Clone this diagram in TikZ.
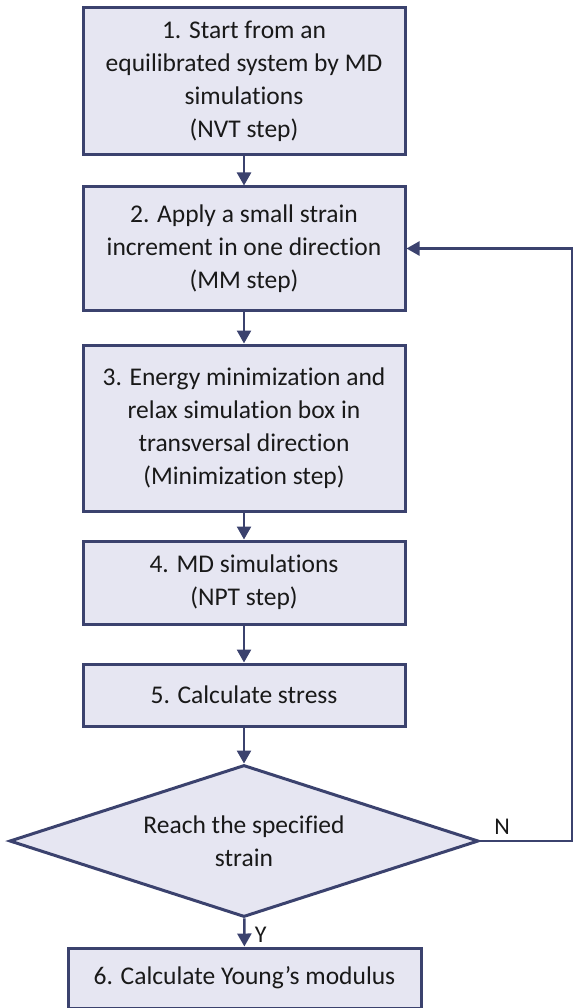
\documentclass[tikz,border=0pt]{standalone}
\usepackage{fontspec}
\setmainfont{Carlito}[Ligatures=NoCommon]
\usetikzlibrary{positioning}
\usetikzlibrary{shapes.geometric, arrows.meta}

\definecolor{boxfill}{RGB}{230,230,242}
\definecolor{boxline}{RGB}{59,66,110}

\tikzset{
  stepbox/.style={draw=boxline, fill=boxfill, line width=3pt, minimum width=322pt,
    align=center, text=black!90, font=\fontsize{25.5}{33}\selectfont},
  decision/.style={diamond, aspect=3.1, draw=boxline, fill=boxfill, line width=3pt,
    minimum width=469pt, minimum height=152pt, inner sep=0pt,
    align=center, text=black!90, font=\fontsize{25.5}{33}\selectfont},
  flow/.style={draw=boxline, line width=2.5pt, -{Triangle[width=14pt,length=13pt]}},
  tag/.style={text=black!90, font=\fontsize{24}{28}\selectfont}
}

\begin{document}
\begin{tikzpicture}[x=1pt, y=-1pt]
\useasboundingbox (0,0) rectangle (573,1008);

\node[stepbox, minimum height=147pt] (s1) at (244,81.5) {1. Start from an\\equilibrated system by MD\\simulations\\(NVT step)};
\node[stepbox, minimum height=123pt] (s2) at (244,248.5) {2. Apply a small strain\\increment in one direction\\(MM step)};
\node[stepbox, minimum height=166pt] (s3) at (244,428) {3. Energy minimization and\\relax simulation box in\\transversal direction\\(Minimization step)};
\node[stepbox, minimum height=83pt] (s4) at (244,582.5) {4. MD simulations\\(NPT step)};
\node[stepbox, minimum height=62pt] (s5) at (244,695) {5. Calculate stress};
\node[decision] (check) at (244,841) {Reach the specified\\strain};
\node[stepbox, minimum width=353pt, minimum height=60pt] (s6) at (244.5,978) {6. Calculate Young’s modulus};

\coordinate (back) at (572,841);

\draw[flow] (s1) -- (s2);
\draw[flow] (s2) -- (s3);
\draw[flow] (s3) -- (s4);
\draw[flow] (s4) -- (s5);
\draw[flow] (s5) -- (check);
\draw[flow] (check) -- node[tag, right, xshift=6pt, yshift=-2pt] {Y} (s6);
\draw[flow] (check.east) -- node[tag, above, pos=0.24, yshift=2pt] {N} (back) |- (s2.east);

\end{tikzpicture}
\end{document}
